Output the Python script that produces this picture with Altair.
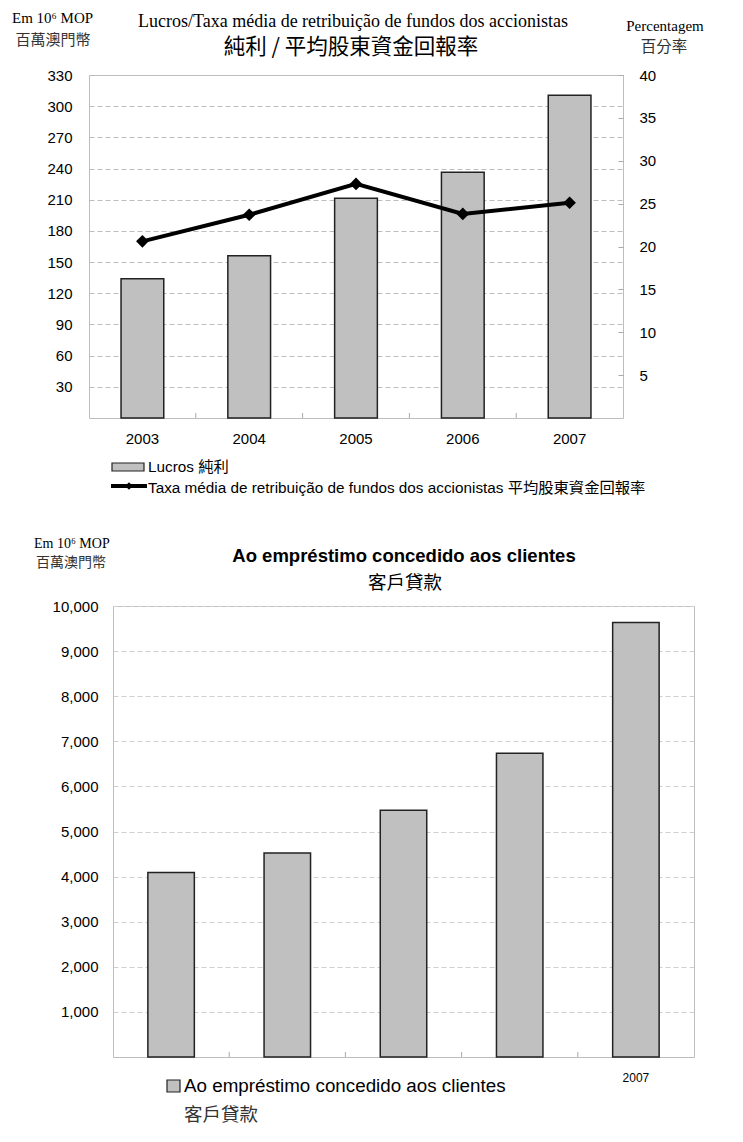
import altair as alt
import pandas as pd

years = ["2003", "2004", "2005", "2006", "2007"]
lucros = [134, 156, 211.5, 236.5, 310.5]
taxa = [20.6, 23.7, 27.3, 23.8, 25.1]
emprestimo = [4090, 4525, 5470, 6735, 9635]

left_ticks = [30, 60, 90, 120, 150, 180, 210, 240, 270, 300, 330]
right_ticks = [5, 10, 15, 20, 25, 30, 35, 40]
bottom_ticks = [1000, 2000, 3000, 4000, 5000, 6000, 7000, 8000, 9000, 10000]

SANS = "Liberation Sans, Arial, Noto Sans CJK TC"
SERIF = "Liberation Serif, Times New Roman, Noto Sans CJK TC"
CJK = "Noto Sans CJK TC"

W1, H1 = 534, 343
W2, H2 = 581, 451
SHIFT = 24

df1 = pd.DataFrame({"year": years, "lucros": lucros, "taxa": taxa})
df2 = pd.DataFrame({"year": years, "emp": emprestimo})


def txt(s, x, y, size, font, align="center", weight="normal", color="#000"):
    return alt.Chart(pd.DataFrame({"t": [s]})).mark_text(
        fontSize=size, font=font, align=align, baseline="middle",
        fontWeight=weight, color=color
    ).encode(x=alt.value(x), y=alt.value(y), text="t:N")


def rule(x, x2, y, y2, color, width):
    return alt.Chart(pd.DataFrame({"a": [0]})).mark_rule(
        color=color, strokeWidth=width
    ).encode(x=alt.value(x), x2=alt.value(x2), y=alt.value(y), y2=alt.value(y2))


def rect(x, x2, y, y2):
    return alt.Chart(pd.DataFrame({"a": [0]})).mark_rect(
        fill="#c0c0c0", stroke="#222", strokeWidth=1.2
    ).encode(x=alt.value(x), x2=alt.value(x2), y=alt.value(y), y2=alt.value(y2))


xscale = alt.Scale(paddingInner=0, paddingOuter=0)

# ---------------- top chart ----------------
xax1 = alt.X("year:N", scale=xscale, sort=years,
             axis=alt.Axis(title=None, labelAngle=0, ticks=False, domain=False,
                           labelPadding=13, labelFontSize=15, labelFont=SANS,
                           labelColor="#000"))
base1 = alt.Chart(df1)
bars1 = base1.mark_bar(width={"band": 0.4}, fill="#c0c0c0", stroke="#222",
                       strokeWidth=1.5).encode(
    x=xax1,
    y=alt.Y("lucros:Q", scale=alt.Scale(domain=[0, 330], nice=False),
            axis=alt.Axis(title=None, values=left_ticks, grid=True,
                          gridDash=[5, 3], gridColor="#bdbdbd", ticks=False,
                          domain=False, labelPadding=17, labelFontSize=15,
                          labelFont=SANS, labelColor="#000")),
)
ticks1 = alt.Chart(pd.DataFrame({"year": years[1:]})).mark_rule(
    color="#aaa", strokeWidth=1).encode(
    x=alt.X("year:N", bandPosition=0, sort=years, scale=xscale),
    y=alt.value(H1 - 5), y2=alt.value(H1))

yr = alt.Y("taxa:Q", scale=alt.Scale(domain=[0, 40], nice=False),
           axis=alt.Axis(title=None, orient="right", values=right_ticks,
                         grid=False, ticks=True, tickSize=5, offset=-5,
                         tickColor="#aaa", domain=False, labelPadding=16,
                         labelFontSize=15, labelFont=SANS, labelColor="#000"))
line1 = base1.mark_line(color="#000", strokeWidth=4).encode(
    x=alt.X("year:N", sort=years, scale=xscale), y=yr)
pts1 = base1.mark_point(shape="diamond", filled=True, color="#000", size=160,
                        opacity=1).encode(
    x=alt.X("year:N", sort=years, scale=xscale), y=yr)

deco1 = alt.layer(
    txt("Em 10⁶ MOP", -77, -57, 15, SERIF, align="left"),
    txt("百萬澳門幣", -36, -35, 15, CJK, color="#333"),
    txt("Lucros/Taxa média de retribuição de fundos dos accionistas", 264, -53,
        18, SERIF),
    txt("純利 / 平均股東資金回報率", 262, -27, 21.5, CJK),
    txt("Percentagem", 576, -49, 15, SERIF),
    txt("百分率", 575, -28, 15.5, CJK, color="#333"),
    rect(23, 55, 388, 396),
    txt("Lucros 純利", 59, 392, 15.3, SANS, align="left"),
    rule(22, 58, 411, 411, "#000", 4),
    txt("Taxa média de retribuição de fundos dos accionistas 平均股東資金回報率",
        59, 413, 15.3, SANS, align="left"),
    rule(0, 1, 424, 424, "white", 1),
)
pt_leg = alt.Chart(pd.DataFrame({"a": [0]})).mark_point(
    shape="diamond", filled=True, color="#000", size=60, opacity=1).encode(
    x=alt.value(40), y=alt.value(411))

top = alt.layer(
    alt.layer(bars1, ticks1),
    alt.layer(line1, pts1),
    deco1, pt_leg,
).resolve_scale(y="independent").properties(width=W1, height=H1)

# ---------------- bottom chart ----------------
bars2 = alt.Chart(df2).mark_bar(width={"band": 0.4}, fill="#c0c0c0",
                                stroke="#222", strokeWidth=1.5).encode(
    x=alt.X("year:N", scale=xscale, sort=years,
            axis=alt.Axis(title=None, labelAngle=0, ticks=False, domain=False,
                          labelPadding=15, labelFontSize=12, labelFont=SANS,
                          labelColor="#000",
                          labelExpr="datum.value == '2007' ? '2007' : ''")),
    y=alt.Y("emp:Q", scale=alt.Scale(domain=[0, 10000], nice=False),
            axis=alt.Axis(title=None, values=bottom_ticks, format=",d",
                          grid=True, gridDash=[5, 3], gridColor="#cfcfcf",
                          ticks=False, domain=False, labelPadding=15,
                          labelFontSize=15, labelFont=SANS, labelColor="#000")),
)
ticks2 = alt.Chart(pd.DataFrame({"year": years[1:]})).mark_rule(
    color="#aaa", strokeWidth=1).encode(
    x=alt.X("year:N", bandPosition=0, sort=years, scale=xscale),
    y=alt.value(H2 - 5), y2=alt.value(H2))

deco2 = alt.layer(
    txt("Em 10⁶ MOP", -79, -62, 14, SERIF, align="left"),
    txt("百萬澳門幣", -42, -43, 14, CJK, color="#333"),
    txt("Ao empréstimo concedido aos clientes", 291, -50, 18.5, SANS,
        weight="bold"),
    txt("客戶貸款", 292, -23, 18.5, CJK),
    rect(54, 67, 474, 486),
    txt("Ao empréstimo  concedido  aos clientes", 71, 480, 18.8, SANS,
        align="left"),
    txt("客戶貸款", 71, 509, 18.5, CJK, align="left", color="#333"),
    rule(0, 0, -76, -75, "white", 1),
)

bottom = alt.layer(bars2, ticks2, deco2).properties(width=W2, height=H2)

spacer = alt.Chart(pd.DataFrame({"a": [0]})).mark_rule(
    color="white", opacity=0).encode(
    x=alt.value(0), y=alt.value(0), y2=alt.value(1)
).properties(width=SHIFT, height=H2,
             view=alt.ViewBackground(stroke="transparent"))

bottom_row = alt.hconcat(spacer, bottom, spacing=0, bounds="flush")

chart = alt.vconcat(top, bottom_row, spacing=29).properties(
    padding={"left": 3, "top": 2, "right": 5, "bottom": 5}
).configure_view(stroke="#bdbdbd", strokeWidth=1)

chart.save("out.html", embed_options={"renderer": "svg", "actions": False})
